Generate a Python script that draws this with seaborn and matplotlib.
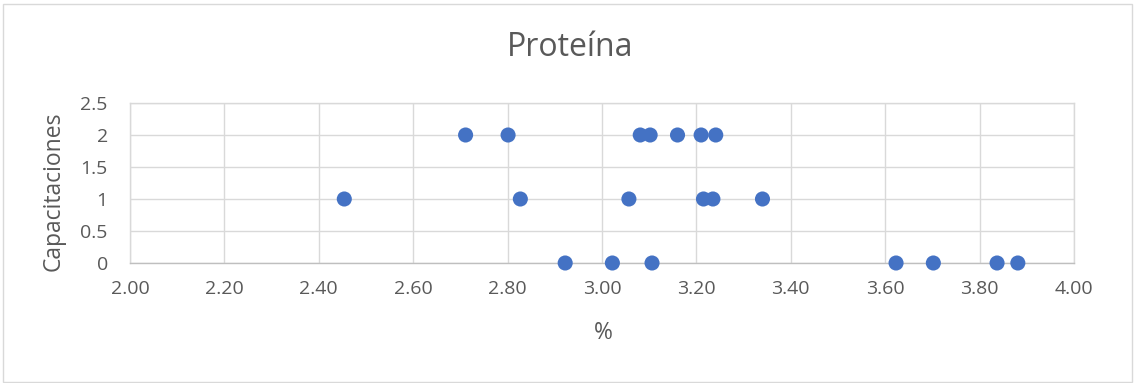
import matplotlib
matplotlib.use("Agg")
import matplotlib.pyplot as plt
import seaborn as sns
import pandas as pd
from matplotlib.patches import Rectangle

# Data
protein_cap2 = [2.711, 2.801, 3.081, 3.102, 3.160, 3.210, 3.241]
protein_cap1 = [2.454, 2.827, 3.057, 3.215, 3.235, 3.340]
protein_cap0 = [2.922, 3.022, 3.106, 3.623, 3.702, 3.837, 3.881]
x_ticks = [2.00, 2.20, 2.40, 2.60, 2.80, 3.00, 3.20, 3.40, 3.60, 3.80, 4.00]
y_ticks = [0, 0.5, 1, 1.5, 2, 2.5]
y_tick_labels = ["0", "0.5", "1", "1.5", "2", "2.5"]
title = "Proteína"
x_label = "%"
y_label = "Capacitaciones"

df = pd.DataFrame({
    "x": protein_cap2 + protein_cap1 + protein_cap0,
    "y": [2] * len(protein_cap2) + [1] * len(protein_cap1) + [0] * len(protein_cap0),
})

sns.set_theme(style="white")
plt.rcParams["font.family"] = ["Open Sans", "DejaVu Sans"]

TXT = "#595959"
GRID = "#D9D9D9"

fig = plt.figure(figsize=(11.36, 3.83), dpi=100)
ax = fig.add_axes([130 / 1136, 1 - 263 / 383, (1074 - 130) / 1136, (263 - 103) / 383])

ax.set_axisbelow(True)
ax.grid(True, color=GRID, linewidth=1.0)
sns.scatterplot(data=df, x="x", y="y", ax=ax, color="#4472C4", s=118,
                edgecolor="none", linewidth=0, clip_on=False, zorder=3)

ax.set_xlim(2.0, 4.0)
ax.set_ylim(0, 2.5)
ax.set_xticks(x_ticks)
ax.set_xticklabels([f"{v:.2f}" for v in x_ticks])
ax.set_yticks(y_ticks)
ax.set_yticklabels(y_tick_labels)
ax.tick_params(axis="both", length=0, labelsize=14, colors=TXT)
ax.tick_params(axis="x", pad=12)
ax.tick_params(axis="y", pad=16)
for lab in ax.get_xticklabels() + ax.get_yticklabels():
    lab.set_color(TXT)

for side in ["top", "right", "left"]:
    ax.spines[side].set_color(GRID)
    ax.spines[side].set_linewidth(1.0)
ax.spines["bottom"].set_color("#BFBFBF")
ax.spines["bottom"].set_linewidth(1.0)

ax.set_xlabel("")
ax.set_ylabel("")
fig.text(603 / 1136, 1 - 333 / 383, x_label, ha="center", va="center", fontsize=16.5, color=TXT)
fig.text(54 / 1136, 1 - 191 / 383, y_label, ha="center", va="center", rotation=90, fontsize=16.5, color=TXT)
fig.text(570 / 1136, 1 - 48 / 383, title, ha="center", va="center", fontsize=23, color=TXT)

fig.patches.append(Rectangle((3.5 / 1136, 1.5 / 383), 1128.5 / 1136, 378 / 383,
                             transform=fig.transFigure, fill=False,
                             edgecolor="#D9D9D9", linewidth=1.0))

fig.savefig("out.png", dpi=100, facecolor="white")
